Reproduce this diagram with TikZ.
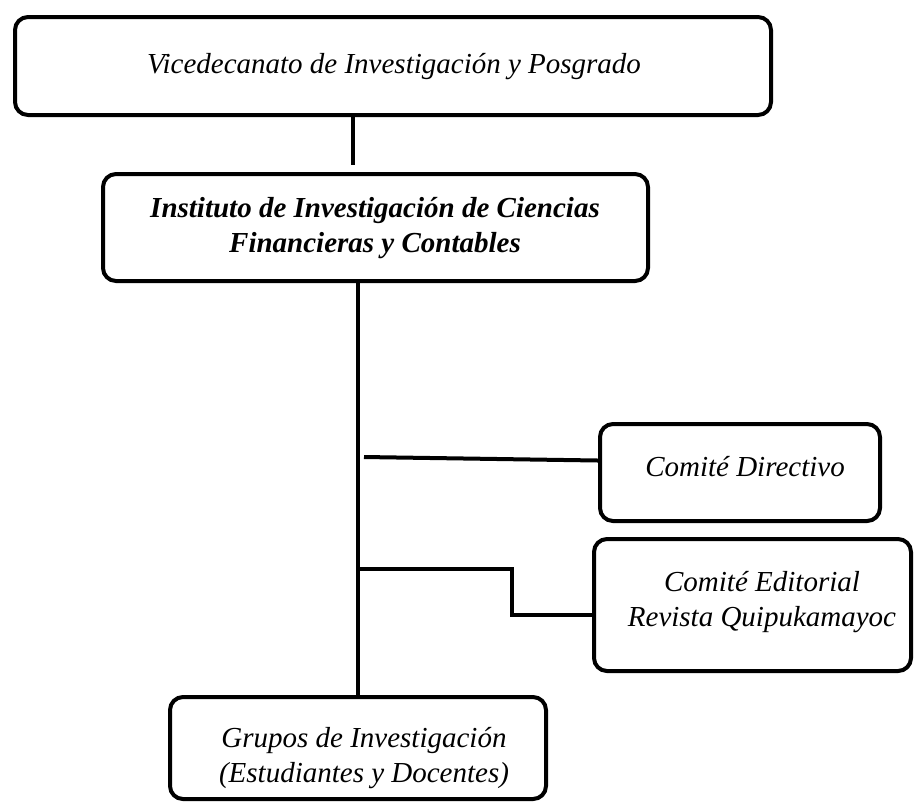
\documentclass[tikz,border=0pt]{standalone}
\usepackage{fontspec}
\setmainfont{Liberation Serif}
\usetikzlibrary{calc}

\tikzset{
	box/.style={draw, line width=2pt, rounded corners=6.5pt, inner sep=0pt},
	txt/.style={align=center, inner sep=0pt, font=\fontsize{14.5}{17.5}\selectfont\itshape},
	link/.style={line width=2pt},
	thinlink/.style={line width=1.6pt},
}

\begin{document}
\begin{tikzpicture}[x=0.5pt, y=-0.5pt]
		%%%%% START %%%%%
		\useasboundingbox (0, 0) rectangle (915, 805);
		
		\node[box, minimum width=378pt, minimum height=49pt] (vice) at (393, 66) {};
		\node[txt] (viceT) at (394, 67) {Vicedecanato de Investigación y Posgrado};
		
		\node[box, minimum width=272.5pt, minimum height=53.5pt] (inst) at (375.5, 227.5) {};
		\node[txt, font=\fontsize{14.5}{17.5}\selectfont\bfseries\itshape] (instT) at (375, 228) {Instituto de Investigación de Ciencias\\Financieras y Contables};
		
		\node[box, minimum width=140pt, minimum height=48.5pt] (dir) at (740, 472.5) {};
		\node[txt] (dirT) at (745, 467) {Comité Directivo};
		
		\node[box, minimum width=158.5pt, minimum height=66pt] (ed) at (752.5, 605) {};
		\node[txt] (edT) at (762, 602) {Comité Editorial\\Revista Quipukamayoc};
		
		\node[box, minimum width=188pt, minimum height=51pt] (grupos) at (358, 748) {};
		\node[txt] (gruposT) at (364, 758) {Grupos de Investigación\\(Estudiantes y Docentes)};
		
		% lines
		\coordinate (sp1) at (353, 0);
		\draw[link, shorten >=3.5pt] (vice.south -| sp1) -- (inst.north -| sp1);
		\draw[link] (inst.south -| grupos.north) -- (grupos.north);
		
		\coordinate (j1) at (364, 457);
		\draw[link] (j1) -- ([yshift=6pt]dir.west);
		
		\coordinate (j2) at (359, 569);
		\coordinate (k2) at (512, 569);
		\draw[thinlink] (j2) -- (k2) |- ([yshift=-5pt]ed.west);
		
		%%%%% END %%%%%
\end{tikzpicture}
\end{document}
